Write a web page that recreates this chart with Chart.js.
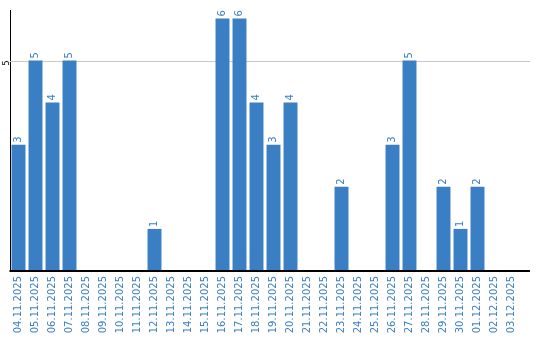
<!DOCTYPE html>
<html>
<head>
<meta charset="utf-8">
<script src="https://cdn.jsdelivr.net/npm/chart.js@4"></script>
<style>
  body { margin: 0; background: #fff; }
  #wrap { width: 540px; height: 340px; }
</style>
</head>
<body>
<div id="wrap"><canvas id="grafico" width="540" height="340"></canvas></div>
<script>
// Datos del gráfico
const fechas = ['04.11.2025', '05.11.2025', '06.11.2025', '07.11.2025', '08.11.2025', '09.11.2025',
    '10.11.2025', '11.11.2025', '12.11.2025', '13.11.2025', '14.11.2025', '15.11.2025',
    '16.11.2025', '17.11.2025', '18.11.2025', '19.11.2025', '20.11.2025', '21.11.2025',
    '22.11.2025', '23.11.2025', '24.11.2025', '25.11.2025', '26.11.2025', '27.11.2025',
    '28.11.2025', '29.11.2025', '30.11.2025', '01.12.2025', '02.12.2025', '03.12.2025'];
const valores = [3, 5, 4, 5, 0, 0, 0, 0, 1, 0, 0, 0, 6, 6, 4, 3, 4, 0, 0, 2, 0, 0, 3, 5, 0, 2, 1, 2, 0, 0];
const ticksY = [5];

const azul = '#3a7ec3';

// Etiquetas de valor giradas encima de cada barra
const etiquetasValor = {
    id: 'etiquetasValor',
    afterDatasetsDraw(chart) {
        const ctx = chart.ctx;
        const meta = chart.getDatasetMeta(0);
        ctx.save();
        ctx.fillStyle = azul;
        ctx.font = '10px "DejaVu Sans"';
        ctx.textAlign = 'left';
        ctx.textBaseline = 'middle';
        meta.data.forEach(function(bar, i) {
            if (!valores[i]) return;
            ctx.save();
            ctx.translate(bar.x, bar.y - 2);
            ctx.rotate(-Math.PI / 2);
            ctx.fillText(String(valores[i]), 0, 0);
            ctx.restore();
        });
        ctx.restore();
    }
};

// Línea de rejilla y eje inferior hasta x = 530
const lineasFondo = {
    id: 'lineasFondo',
    beforeDatasetsDraw(chart) {
        const ctx = chart.ctx;
        const a = chart.chartArea;
        ctx.save();
        ctx.lineWidth = 1;
        ctx.strokeStyle = '#c8c8c8';
        ticksY.forEach(function(v) {
            const y = Math.round(chart.scales.y.getPixelForValue(v)) + 0.5;
            ctx.beginPath();
            ctx.moveTo(a.left, y);
            ctx.lineTo(530, y);
            ctx.stroke();
        });
        ctx.restore();
    },
    afterDraw(chart) {
        const ctx = chart.ctx;
        const a = chart.chartArea;
        ctx.save();
        ctx.strokeStyle = '#000';
        ctx.lineWidth = 2;
        ctx.beginPath();
        ctx.moveTo(a.left - 0.5, a.bottom);
        ctx.lineTo(530, a.bottom);
        ctx.stroke();
        ctx.restore();
    }
};

new Chart(document.getElementById('grafico'), {
    type: 'bar',
    data: {
        labels: fechas,
        datasets: [{
            data: valores,
            backgroundColor: azul,
            barPercentage: 0.82,
            categoryPercentage: 1
        }]
    },
    options: {
        responsive: false,
        animation: false,
        layout: { padding: { top: 10, right: 20, left: 0, bottom: 0 } },
        plugins: {
            legend: { display: false },
            tooltip: { enabled: false }
        },
        scales: {
            x: {
                grid: { display: false, drawTicks: false },
                border: { display: false },
                ticks: {
                    color: azul,
                    font: { family: 'DejaVu Sans', size: 10 },
                    minRotation: 90,
                    maxRotation: 90,
                    autoSkip: false,
                    padding: 5
                },
                afterFit(scale) { scale.height = 69; }
            },
            y: {
                min: 0,
                max: 6.2,
                afterBuildTicks(scale) {
                    scale.ticks = ticksY.map(v => ({ value: v }));
                },
                grid: { display: false, drawTicks: false },
                border: { display: true, color: '#000', width: 1 },
                ticks: {
                    color: '#000',
                    font: { family: 'DejaVu Sans', size: 8 },
                    minRotation: 90,
                    maxRotation: 90,
                    padding: 3
                },
                afterFit(scale) { scale.width = 10; }
            }
        }
    },
    plugins: [etiquetasValor, lineasFondo]
});
</script>
</body>
</html>
